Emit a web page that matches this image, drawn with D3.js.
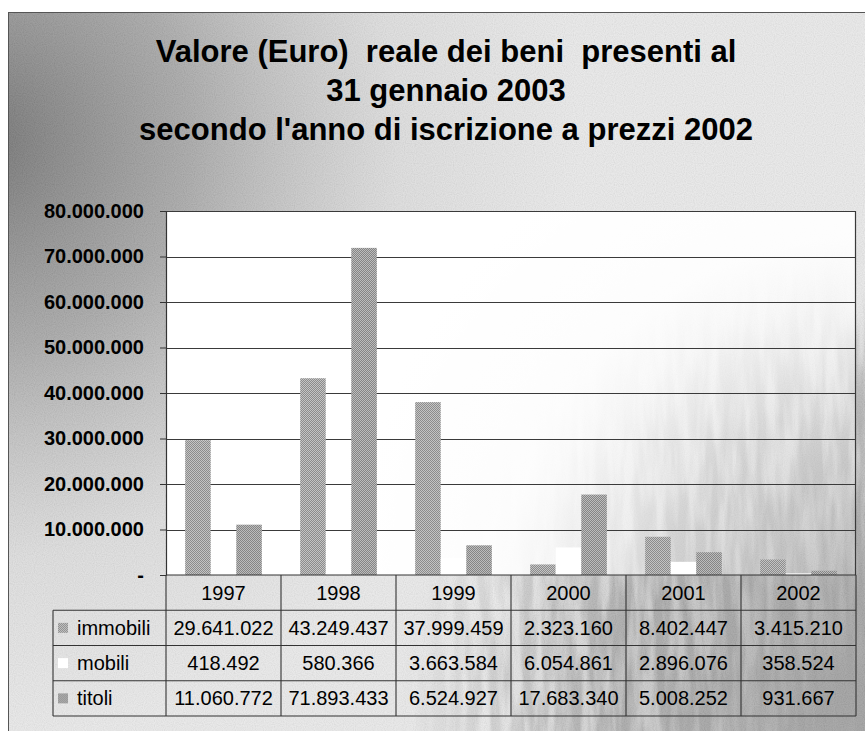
<!DOCTYPE html>
<html><head><meta charset="utf-8">
<script src="https://cdn.jsdelivr.net/npm/d3@7"></script>
<style>
body{margin:0;background:#fff}
svg{display:block}
text{font-family:"Liberation Sans",Arial,sans-serif;fill:#000}
</style>
</head><body>
<svg id="c" width="865" height="731"></svg>
<script>
// ---- data ----
const years = ["1997","1998","1999","2000","2001","2002"];
const seriesNames = ["immobili","mobili","titoli"];
const immobili = [29641022,43249437,37999459,2323160,8402447,3415210];
const mobili   = [418492,580366,3663584,6054861,2896076,358524];
const titoli   = [11060772,71893433,6524927,17683340,5008252,931667];
const yTicks = [0,10000000,20000000,30000000,40000000,50000000,60000000,70000000,80000000];
const titleLines = ["Valore (Euro)  reale dei beni  presenti al","31 gennaio 2003","secondo l'anno di iscrizione a prezzi 2002"];

const values = {immobili, mobili, titoli};
const fills = {immobili:"url(#patA)", mobili:"#ffffff", titoli:"url(#patB)"};

const it = d3.formatLocale({decimal:",", thousands:".", grouping:[3], currency:["€",""]});
const fmt = it.format(",");

const svg = d3.select("#c");
const W = 865, H = 731;
const defs = svg.append("defs");

function checker(id, a, b){
  const p = defs.append("pattern").attr("id",id).attr("width",2).attr("height",2).attr("patternUnits","userSpaceOnUse");
  p.append("rect").attr("width",2).attr("height",2).attr("fill",b);
  p.append("rect").attr("width",1).attr("height",1).attr("fill",a);
  p.append("rect").attr("x",1).attr("y",1).attr("width",1).attr("height",1).attr("fill",a);
}
checker("patA","#8c8c8c","#c4c4c4");
checker("patB","#858585","#bcbcbc");

// background gradients
const rgTL = defs.append("radialGradient").attr("id","rgTL").attr("gradientUnits","userSpaceOnUse")
  .attr("cx",-20).attr("cy",140).attr("r",600);
rgTL.append("stop").attr("offset",0).attr("stop-color","#606060").attr("stop-opacity",0.9);
rgTL.append("stop").attr("offset",0.35).attr("stop-color","#7a7a7a").attr("stop-opacity",0.6);
rgTL.append("stop").attr("offset",0.7).attr("stop-color","#999").attr("stop-opacity",0.15);
rgTL.append("stop").attr("offset",1).attr("stop-color","#a0a0a0").attr("stop-opacity",0);

const rgBR = defs.append("radialGradient").attr("id","rgBR").attr("gradientUnits","userSpaceOnUse")
  .attr("cx",880).attr("cy",720).attr("r",480);
rgBR.append("stop").attr("offset",0).attr("stop-color","#fff").attr("stop-opacity",1);
rgBR.append("stop").attr("offset",0.55).attr("stop-color","#fff").attr("stop-opacity",0.8);
rgBR.append("stop").attr("offset",1).attr("stop-color","#fff").attr("stop-opacity",0);
const mask = defs.append("mask").attr("id","mBR").attr("maskUnits","userSpaceOnUse")
  .attr("x",0).attr("y",0).attr("width",W).attr("height",H);
mask.append("rect").attr("width",W).attr("height",H).attr("fill","url(#rgBR)");

const rgBR2 = defs.append("radialGradient").attr("id","rgBR2").attr("gradientUnits","userSpaceOnUse")
  .attr("cx",880).attr("cy",700).attr("r",400);
rgBR2.append("stop").attr("offset",0).attr("stop-color","#808080").attr("stop-opacity",0.75);
rgBR2.append("stop").attr("offset",0.5).attr("stop-color","#8a8a8a").attr("stop-opacity",0.4);
rgBR2.append("stop").attr("offset",1).attr("stop-color","#8a8a8a").attr("stop-opacity",0);

const gr = defs.append("filter").attr("id","grass").attr("x",0).attr("y",0).attr("width","100%").attr("height","100%");
gr.append("feTurbulence").attr("type","fractalNoise").attr("baseFrequency","0.09 0.012").attr("numOctaves",3).attr("seed",7);
gr.append("feColorMatrix").attr("type","matrix").attr("values","0 0 0 0 0.35  0 0 0 0 0.35  0 0 0 0 0.35  2.8 0 0 0 -0.85");

const nz = defs.append("filter").attr("id","noise").attr("x",0).attr("y",0).attr("width","100%").attr("height","100%");
nz.append("feTurbulence").attr("type","fractalNoise").attr("baseFrequency","0.9").attr("numOctaves",1).attr("seed",3);
nz.append("feColorMatrix").attr("type","matrix").attr("values","1 0 0 0 0  1 0 0 0 0  1 0 0 0 0  0 0 0 0 1");

const rgPlot = defs.append("radialGradient").attr("id","rgPlot").attr("gradientUnits","userSpaceOnUse")
  .attr("cx",870).attr("cy",600).attr("r",520);
rgPlot.append("stop").attr("offset",0).attr("stop-color","#fff").attr("stop-opacity",0.1);
rgPlot.append("stop").attr("offset",0.4).attr("stop-color","#fff").attr("stop-opacity",0.45);
rgPlot.append("stop").attr("offset",0.7).attr("stop-color","#fff").attr("stop-opacity",0.92);
rgPlot.append("stop").attr("offset",1).attr("stop-color","#fff").attr("stop-opacity",1);

// ---- background frame ----
const fx = 8.5, fy = 12.5;
svg.append("rect").attr("x",fx).attr("y",fy).attr("width",W).attr("height",H).attr("fill","#ececec");
svg.append("rect").attr("x",fx).attr("y",fy).attr("width",W).attr("height",H).attr("fill","url(#rgTL)");
svg.append("rect").attr("x",fx).attr("y",fy).attr("width",W).attr("height",H).attr("fill","url(#rgBR2)");
svg.append("rect").attr("x",fx).attr("y",fy).attr("width",W).attr("height",H).attr("filter","url(#grass)").attr("mask","url(#mBR)");
svg.append("rect").attr("x",fx).attr("y",fy).attr("width",W).attr("height",H).attr("filter","url(#noise)").attr("opacity",0.14);
svg.append("rect").attr("x",fx).attr("y",fy).attr("width",W).attr("height",H).attr("fill","none").attr("stroke","#555").attr("stroke-width",1);

// ---- title ----
svg.append("g").selectAll("text").data(titleLines).join("text")
  .attr("x",446).attr("y",(d,i)=>62+i*39)
  .attr("text-anchor","middle")
  .attr("font-size",31).attr("font-weight","bold")
  .style("white-space","pre")
  .attr("xml:space","preserve")
  .text(d=>d);

// ---- scales ----
const x0 = d3.scaleBand().domain(years).range([166,856]);
const x1 = d3.scaleBand().domain(seriesNames).range([0,x0.bandwidth()]).paddingInner(0).paddingOuter(0.75);
const y = d3.scaleLinear().domain([0,80000000]).range([575,211]);

svg.append("rect").attr("x",166).attr("y",y(80000000)).attr("width",690).attr("height",y(0)-y(80000000)).attr("fill","url(#rgPlot)");

svg.append("g").selectAll("line").data(yTicks.filter(v=>v>0)).join("line")
  .attr("x1",166).attr("x2",856).attr("y1",d=>Math.round(y(d))+0.5).attr("y2",d=>Math.round(y(d))+0.5)
  .attr("stroke","#3a3a3a").attr("stroke-width",1.2);
svg.append("line").attr("x1",855.5).attr("x2",855.5).attr("y1",y(80000000)).attr("y2",y(0)).attr("stroke","#3a3a3a").attr("stroke-width",1.2);

const gYear = svg.append("g").selectAll("g").data(years).join("g")
  .attr("transform",d=>`translate(${x0(d)},0)`);
gYear.selectAll("rect").data((d,j)=>seriesNames.map(s=>({s, v: values[s][j]}))).join("rect")
  .attr("x",d=>x1(d.s)).attr("width",x1.bandwidth())
  .attr("y",d=>y(d.v)).attr("height",d=>y(0)-y(d.v))
  .attr("fill",d=>fills[d.s]);

const ax = svg.append("g").attr("transform","translate(166,0)")
  .call(d3.axisLeft(y).tickValues(yTicks).tickSize(6).tickSizeOuter(0).tickPadding(16)
    .tickFormat(v=>v===0?"-":fmt(v)));
ax.selectAll(".domain").attr("stroke","#333").attr("stroke-width",1.2);
ax.selectAll(".tick line").attr("stroke","#333");
ax.selectAll("text").attr("font-size",20).attr("font-weight","bold")
  .attr("font-family","'Liberation Sans',Arial,sans-serif").attr("fill","#111");

// ---- data table ----
const rows = ["header", ...seriesNames];
const ry = d3.scaleBand().domain(rows).range([575,716]);
const tg = svg.append("g").attr("stroke","#333").attr("stroke-width",1.1);
tg.append("line").attr("x1",166).attr("x2",856).attr("y1",ry("header")).attr("y2",ry("header"));
seriesNames.forEach(s=>{
  tg.append("line").attr("x1",53).attr("x2",856).attr("y1",ry(s)).attr("y2",ry(s));
});
tg.append("line").attr("x1",53).attr("x2",856).attr("y1",716).attr("y2",716);
const xb = years.map(d=>x0(d)).concat([856]);
tg.selectAll("line.v").data(xb).join("line").attr("class","v")
  .attr("x1",d=>d).attr("x2",d=>d).attr("y1",575).attr("y2",716);
tg.append("line").attr("x1",53).attr("x2",53).attr("y1",ry("immobili")).attr("y2",716);

svg.append("g").selectAll("text").data(years).join("text")
  .attr("x",d=>x0(d)+x0.bandwidth()/2).attr("y",ry("header")+ry.bandwidth()/2+7)
  .attr("text-anchor","middle").attr("font-size",20).text(d=>d);

seriesNames.forEach(s=>{
  svg.append("g").selectAll("text").data(values[s]).join("text")
    .attr("x",(d,j)=>x0(years[j])+x0.bandwidth()/2).attr("y",ry(s)+ry.bandwidth()/2+7)
    .attr("text-anchor","middle").attr("font-size",20).text(d=>d===0?"-":fmt(d));
});

const lg = svg.append("g").selectAll("g").data(seriesNames).join("g")
  .attr("transform",s=>`translate(0,${ry(s)+ry.bandwidth()/2})`);
lg.append("rect").attr("x",58).attr("y",-5).attr("width",10).attr("height",10).attr("fill",s=>fills[s]);
lg.append("text").attr("x",77).attr("y",7).attr("font-size",20).text(s=>s);
</script>
</body></html>
